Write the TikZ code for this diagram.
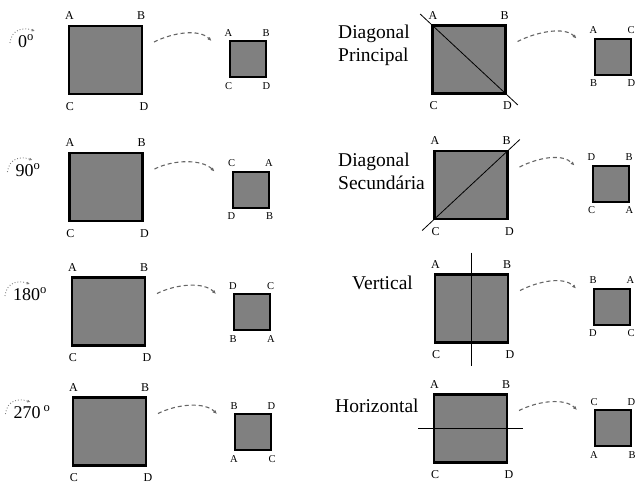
\documentclass[tikz,border=0pt]{standalone}
\usepackage{fontspec}
\setmainfont{Liberation Serif}
\usetikzlibrary{arrows.meta,calc}
\definecolor{sqgray}{RGB}{128,128,128}

\begin{document}
\begin{tikzpicture}[x=1pt, y=-1pt, >=latex]
  \tikzstyle{bigsq} = [draw=black, fill=sqgray, line width=2.2pt, inner sep=0pt, outer sep=0pt,
                       minimum width=73pt, minimum height=68pt]
  \tikzstyle{smallsq} = [draw=black, fill=sqgray, line width=2pt, inner sep=0pt, outer sep=0pt,
                         minimum width=36pt, minimum height=36pt]
  \tikzstyle{lbl} = [inner sep=0pt, font=\fontsize{12}{12}\selectfont]
  \tikzstyle{slbl} = [inner sep=0pt, font=\fontsize{10.5}{10.5}\selectfont]
  \tikzstyle{captxt} = [inner sep=0pt, anchor=west, align=left, font=\fontsize{19.5}{23}\selectfont]
  \tikzstyle{rotcap} = [inner sep=0pt, font=\fontsize{18}{18}\selectfont]
  \tikzstyle{flip} = [-{Latex[length=4pt,width=3.5pt]}, dash pattern=on 4pt off 3pt,
                      line width=1.1pt, draw=black!60]
  \tikzstyle{turn} = [-{Latex[length=3pt,width=3pt]}, dotted, line width=0.9pt, draw=black!50]
  \tikzstyle{axisline} = [draw=black, line width=0.8pt]

  \useasboundingbox (0,0) rectangle (636,483);

  % quadrados originais, sempre A B / C D
  \foreach \n/\x/\y in {l1/105.5/60, l2/106/187, l3/108.5/311.5, l4/109.5/431.5,
                        r1/469/59.5, r2/471/185, r3/471.5/308.5, r4/470.5/428.5} {
    \node[bigsq] (big\n) at (\x,\y) {};
    \node[lbl] (big\n-a) at ([shift={(0.5,-10)}]big\n.north west) {A};
    \node[lbl] (big\n-b) at ([shift={(-1,-10)}]big\n.north east) {B};
    \node[lbl] (big\n-c) at ([shift={(1,12.5)}]big\n.south west) {C};
    \node[lbl] (big\n-d) at ([shift={(2,12.5)}]big\n.south east) {D};
  }

  % quadrados transformados
  \foreach \n/\x/\y/\p/\q/\r/\s in {l1/247.5/59/A/B/C/D, l2/250.5/189.5/C/A/D/B,
                                    l3/252/312/D/C/B/A, l4/253/432/B/D/A/C,
                                    r1/612.5/56.5/A/C/B/D, r2/610.5/183.5/D/B/C/A,
                                    r3/612/306.5/B/A/D/C, r4/613/428/C/D/A/B} {
    \node[smallsq] (small\n) at (\x,\y) {};
    \node[slbl] (small\n-tl) at ([shift={(-1,-8)}]small\n.north west) {\p};
    \node[slbl] (small\n-tr) at ([shift={(0.5,-8)}]small\n.north east) {\q};
    \node[slbl] (small\n-bl) at ([shift={(-1,9)}]small\n.south west) {\r};
    \node[slbl] (small\n-br) at ([shift={(1,9)}]small\n.south east) {\s};
  }

  % setas tracejadas entre os quadrados
  \foreach \n in {l1,l2,l3,l4,r1,r2,r3,r4} {
    \coordinate (from\n) at ([shift={(12,-18)}]big\n.east);
    \coordinate (to\n) at ([shift={(-18,-18)}]small\n.west);
    \draw[flip] (from\n) .. controls +(20,-10) and +(-12,-12) .. (to\n);
  }

  % rotacoes
  \node[rotcap] (rotl1) at (26,41)  {0\textsuperscript{o}};
  \node[rotcap] (rotl2) at (28,170) {90\textsuperscript{o}};
  \node[rotcap] (rotl3) at (30,294) {180\textsuperscript{o}};
  \node[rotcap] (rotl4) at (32,412) {270\,\textsuperscript{o}};
  \foreach \n in {l1,l2,l3,l4} {
    \draw[turn] ([shift={(-8,2)}]rot\n.west) .. controls +(2,-14) and +(-12,-4)
                .. ([shift={(17,-10)}]rot\n.west);
  }

  % reflexoes
  \node[captxt] (capr1) at (338,45)  {Diagonal\\Principal};
  \node[captxt] (capr2) at (338,171) {Diagonal\\Secundária};
  \node[captxt] (capr3) at (352,283) {Vertical};
  \node[captxt] (capr4) at (335,406) {Horizontal};

  \draw[axisline] ($(bigr1.north west)!-0.17!(bigr1.south east)$) -- ($(bigr1.north west)!1.17!(bigr1.south east)$);
  \draw[axisline] ($(bigr2.south west)!-0.17!(bigr2.north east)$) -- ($(bigr2.south west)!1.17!(bigr2.north east)$);
  \draw[axisline] ($(bigr3.north)+(0,-22)$) -- ($(bigr3.south)+(0,23)$);
  \draw[axisline] ($(bigr4.west)+(-16,0)$) -- ($(bigr4.east)+(16,0)$);
\end{tikzpicture}
\end{document}
